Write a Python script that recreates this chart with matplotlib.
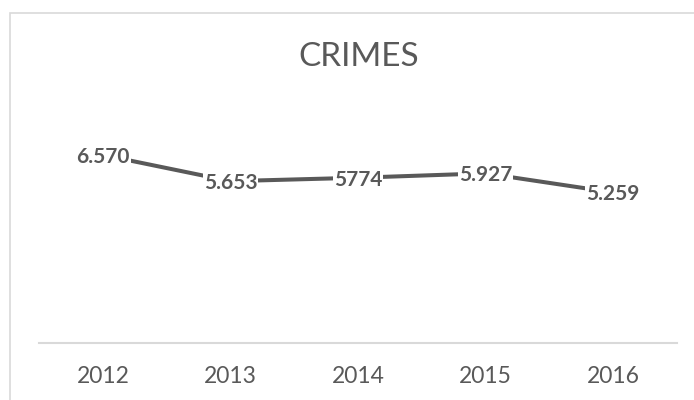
import matplotlib
matplotlib.use("Agg")
import matplotlib.pyplot as plt
from matplotlib.patches import Rectangle

years = ["2012", "2013", "2014", "2015", "2016"]
crimes = [6570, 5653, 5774, 5927, 5259]
labels = ["6.570", "5.653", "5774", "5.927", "5.259"]
title = "CRIMES"

W, H = 694, 400
fig = plt.figure(figsize=(W / 100, H / 100), dpi=100)
fig.patch.set_facecolor("white")

# chart frame (partly cut off at right/bottom)
fig.patches.append(Rectangle((9.5 / W, -0.2), 1.0, (H - 12.5) / H + 0.2,
                             transform=fig.transFigure, fill=False,
                             edgecolor="#d9d9d9", linewidth=1.2))

ax = fig.add_axes([39.25 / W, 57.5 / H, 637.5 / W, 228.3 / H])
x = list(range(len(years)))
ax.plot(x, crimes, color="#595959", linewidth=2.9, solid_capstyle="round",
        solid_joinstyle="round", zorder=2)
for xi, v, lab in zip(x, crimes, labels):
    ax.text(xi, v, lab, ha="center", va="center_baseline", fontsize=15,
            fontweight="bold", color="#595959", family="Lato", zorder=3,
            bbox=dict(boxstyle="square,pad=0.05", facecolor="white",
                      edgecolor="none"))

ax.set_xlim(-0.5, len(years) - 0.5)
ax.set_ylim(0, 8000)
ax.set_xticks(x)
ax.set_xticklabels(years, fontsize=16.5, color="#595959", family="Lato")
ax.tick_params(axis="x", length=0, pad=17)
ax.set_yticks([])
for s in ["top", "right", "left"]:
    ax.spines[s].set_visible(False)
ax.spines["bottom"].set_color("#d9d9d9")
ax.spines["bottom"].set_linewidth(1.5)

fig.text(358.5 / W, 1 - 57 / H, title, ha="center", va="center", fontsize=24,
         color="#595959", family="Lato", fontweight="normal")

fig.savefig("out.png", dpi=100)
